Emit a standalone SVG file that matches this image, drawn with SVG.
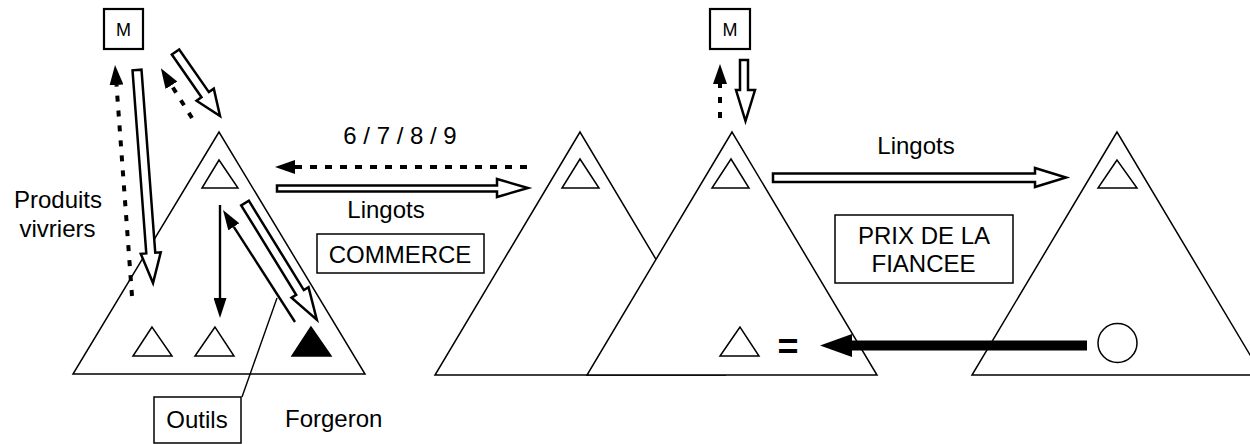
<svg xmlns="http://www.w3.org/2000/svg" width="1250" height="444" viewBox="0 0 1250 444">
<style>
.tri{fill:#fff;stroke:#000;stroke-width:1.5;stroke-linejoin:miter}
.box{fill:#fff;stroke:#000;stroke-width:1.5}
.mbox{fill:#fff;stroke:#000;stroke-width:2.2}
.t{font-family:"Liberation Sans",Arial,sans-serif;font-size:24px;fill:#000}
.m{font-family:"Liberation Sans",Arial,sans-serif;font-size:18px;fill:#000}
.hol{fill:#fff;stroke:#000;stroke-width:2.5;stroke-linejoin:miter}
.dot{fill:none;stroke:#000;stroke-width:4;stroke-dasharray:6 9}
.sol{fill:none;stroke:#000;stroke-width:2.4}
.thin{fill:none;stroke:#000;stroke-width:1.4}
</style>
<defs>
<marker id="hd" viewBox="0 0 20 14" markerWidth="20" markerHeight="14" refX="0" refY="7" orient="auto" markerUnits="userSpaceOnUse"><path d="M0,0 L20,7 L0,14 Z" fill="#000"/></marker>
<marker id="hs" viewBox="0 0 20 13" markerWidth="20" markerHeight="13" refX="0" refY="6.5" orient="auto" markerUnits="userSpaceOnUse"><path d="M0,0 L20,6.5 L0,13 Z" fill="#000"/></marker>
</defs>

<g id="lineage-left">
<polygon class="tri" points="219,132 73,374 365,374"/>
<polygon class="tri" points="219,160 202,188 238,188"/>
<polygon class="tri" points="152,327 133,356 172,356"/>
<polygon class="tri" points="215,327 195,356 234,356"/>
<polygon points="311,327 292,356 331,356" fill="#000" stroke="#000" stroke-width="1.5"/>
</g>
<g id="lineage-mid-left">
<polygon class="tri" points="580,132 435,375 725,375"/>
<polygon class="tri" points="580,159 562,188 599,188"/>
</g>
<g id="lineage-mid">
<polygon class="tri" points="732,132 587,375 877,375"/>
<polygon class="tri" points="731,159 712,188 749,188"/>
<polygon class="tri" points="740,327 720,356 759,356"/>
<text class="t" x="788" y="359" text-anchor="middle" style="font-size:36px;font-weight:bold">=</text>
</g>
<g id="lineage-right">
<polygon class="tri" points="1117,132 972,375 1262,375"/>
<polygon class="tri" points="1117,160 1098,188 1137,188"/>
<circle cx="1117.5" cy="343" r="19.5" fill="#fff" stroke="#000" stroke-width="1.5"/>
</g>

<g id="m-left"><rect class="mbox" x="104" y="9" width="39" height="40"/><text class="m" x="123.5" y="36" text-anchor="middle">M</text></g>
<g id="m-right"><rect class="mbox" x="710" y="9" width="40" height="40"/><text class="m" x="730" y="36" text-anchor="middle">M</text></g>

<g id="label-produits"><text class="t" x="58" y="208" text-anchor="middle">Produits</text><text class="t" x="57.5" y="237" text-anchor="middle">vivriers</text></g>
<g id="label-6789"><text class="t" x="400" y="144" text-anchor="middle">6 / 7 / 8 / 9</text></g>
<g id="label-lingots1"><text class="t" x="386" y="218" text-anchor="middle">Lingots</text></g>
<g id="commerce"><rect class="box" x="317" y="234" width="167" height="39"/><text class="t" x="400" y="263" text-anchor="middle">COMMERCE</text></g>
<g id="label-lingots2"><text class="t" x="916" y="154" text-anchor="middle">Lingots</text></g>
<g id="prix"><rect class="box" x="835" y="215" width="178" height="68"/><text class="t" x="924" y="244" text-anchor="middle">PRIX DE LA</text><text class="t" x="923.5" y="272" text-anchor="middle">FIANCEE</text></g>
<g id="outils"><rect class="box" x="154" y="397" width="87" height="46"/><text class="t" x="197" y="428" text-anchor="middle">Outils</text></g>
<g id="forgeron"><text class="t" x="285" y="427">Forgeron</text></g>

<g id="connectors">
<line class="dot" x1="132" y1="296" x2="116.5" y2="85" marker-end="url(#hd)"/>
<line class="dot" x1="192" y1="118" x2="171.5" y2="85.3" marker-end="url(#hd)"/>
<line class="dot" x1="527" y1="167" x2="295" y2="167" style="stroke-dasharray:7 8" marker-end="url(#hd)"/>
<line class="dot" x1="720" y1="118" x2="720" y2="84" marker-end="url(#hd)"/>
<polygon class="hol" transform="translate(137,70) rotate(85.7)" points="0,-4.5 183.6,-4.5 183.6,-10 213.6,0 183.6,10 183.6,4.5 0,4.5"/>
<polygon class="hol" transform="translate(175.5,52) rotate(55.2)" points="0,-4.5 52,-4.5 52,-10.5 78,0 52,10.5 52,4.5 0,4.5"/>
<polygon class="hol" transform="translate(245,203) rotate(58.4)" points="0,-4.5 105,-4.5 105,-10 137,0 105,10 105,4.5 0,4.5"/>
<polygon class="hol" points="277,185.5 497,185.5 497,179 528,188 497,197 497,191.5 277,191.5"/>
<polygon class="hol" points="773,173.5 1035,173.5 1035,168 1066,177.5 1035,187 1035,182 773,182"/>
<polygon class="hol" points="740,60 748,60 748,90 755,90 745.5,121 736,90 740,90"/>
<line class="sol" x1="220" y1="205" x2="220" y2="298" marker-end="url(#hs)"/>
<line class="sol" x1="295" y1="322" x2="233.8" y2="226.8" marker-end="url(#hs)"/>
<line class="thin" x1="277" y1="298" x2="242" y2="397"/>
<rect x="848" y="340.5" width="239" height="10" fill="#000"/>
<polygon points="820,345.5 852,334 852,357" fill="#000"/>
</g>
</svg>
